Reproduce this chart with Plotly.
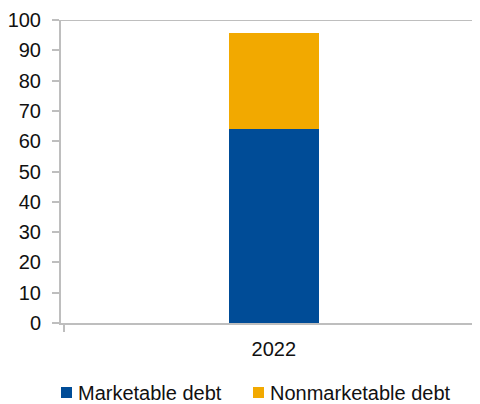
import plotly.graph_objects as go

categories = ["2022"]
marketable = [64.0]
nonmarketable = [31.7]
yticks = [0, 10, 20, 30, 40, 50, 60, 70, 80, 90, 100]
series_names = ["Marketable debt", "Nonmarketable debt"]

BLUE = "#004C97"
GOLD = "#F2A900"
GRAY = "#BEBEBE"
FONT = dict(family="Liberation Sans, Arial, sans-serif", size=20, color="#111111")

fig = go.Figure()
fig.add_bar(x=categories, y=marketable, name=series_names[0],
            marker=dict(color=BLUE, line=dict(width=0)), width=0.215)
fig.add_bar(x=categories, y=nonmarketable, name=series_names[1],
            marker=dict(color=GOLD, line=dict(width=0)), width=0.215)

# top border line at 100
fig.add_shape(type="line", xref="paper", yref="y", x0=0, x1=1, y0=100, y1=100,
              line=dict(color=GRAY, width=2))

# custom legend (keys + labels) below the plot
legend_items = [
    (series_names[0], BLUE, 0.0, 0.0382),
    (series_names[1], GOLD, 0.4582, 0.4964),
]
for name, col, kx, tx in legend_items:
    fig.add_shape(type="rect", xref="paper", yref="paper",
                  x0=kx, x1=kx + 0.0263, y0=-0.2475, y1=-0.2112,
                  fillcolor=col, line=dict(width=0))
    fig.add_annotation(xref="paper", yref="paper", x=tx, y=-0.2294,
                       xanchor="left", yanchor="middle", text=name,
                       showarrow=False, font=FONT, borderpad=0)

fig.update_layout(
    barmode="stack",
    width=472, height=396,
    margin=dict(l=53, r=0, t=12, b=81),
    plot_bgcolor="white", paper_bgcolor="white",
    font=FONT,
    showlegend=False,
    bargap=0,
)
fig.update_yaxes(range=[0, 100], tickvals=yticks, showgrid=False, zeroline=False,
                 showline=True, linecolor=GRAY, linewidth=2,
                 ticks="outside", ticklen=7, tickcolor=GRAY, tickwidth=2,
                 ticklabelstandoff=7, automargin=False)
fig.update_xaxes(range=[-0.508, 0.492], showgrid=False, zeroline=False,
                 showline=True, linecolor=GRAY, linewidth=2,
                 ticks="outside", tickson="boundaries", ticklen=7,
                 tickcolor=GRAY, tickwidth=2, ticklabelstandoff=7,
                 automargin=False)

fig.write_html("out.html")
